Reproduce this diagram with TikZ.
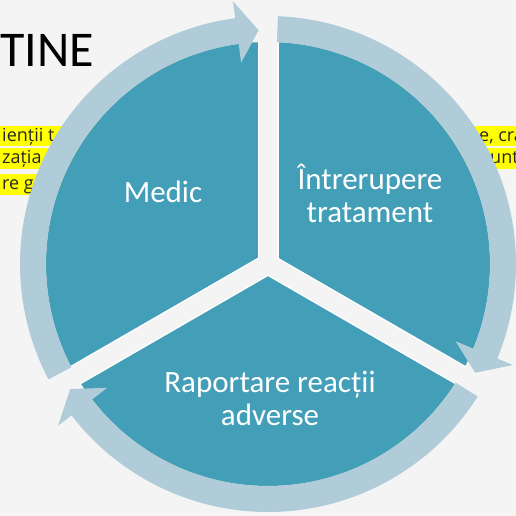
\documentclass[tikz,border=0pt]{standalone}
\usepackage{fontspec}
\setmainfont{Carlito}
\newfontfamily\bodyfont{Open Sans}

\definecolor{bggray}{HTML}{F4F4F4}
\definecolor{segteal}{HTML}{439FB8}
\definecolor{ringblue}{HTML}{B0CCD8}
\definecolor{hiyellow}{HTML}{FFFF00}

\begin{document}
\begin{tikzpicture}[x=1pt, y=1pt,
    band/.style={fill=hiyellow},
    hltext/.style={font=\bodyfont\fontsize{18}{20}\selectfont, text=black!85, inner sep=0pt, anchor=base west},
    seglabel/.style={font=\fontsize{31}{33}\selectfont, text=white, align=center},
    ringarrow/.style={fill=ringblue}]

    \fill[bggray] (-268,-252) rectangle (248,264);
    \useasboundingbox (-268,-252) rectangle (248,264);

    \fill[band] (-268,118) rectangle (248,138);
    \fill[band] (-268,95) rectangle (248,116);
    \fill[band] (-268,69) rectangle (-120,90);

    \node[hltext] (1) at (-266,122) {ienții t};
    \node[hltext, anchor=base] (2) at (-0.5,122) {eze};
    \node[hltext] (3) at (211,122) {e, cra};

    \node[hltext] (4) at (-266,100) {zația};
    \node[hltext, anchor=base] (5) at (-0.5,100) {pe};
    \node[hltext] (6) at (222,100) {unt};

    \node[hltext] (7) at (-266,74) {re ge};

    \node[font=\fontsize{50}{54}\selectfont, anchor=base west, inner sep=0pt] (8) at (-268,197) {TINE};

    \fill[segteal] (0,0) circle[radius=222];

    \foreach \a in {90,210,330}
        \draw[white, line width=21pt] (0,0) -- (\a:223);
    \foreach \a in {90,210,330}
        \draw[bggray, line width=18pt] (0,0) -- (\a:224);

    \foreach \t/\h in {207.7/92.3, 87.7/-27.7, -32.3/-147.7}{
        \pgfmathsetmacro\hb{\h+5.3}
        \fill[ringarrow] (\t:222) arc[start angle=\t, end angle=\hb, radius=222]
            -- (\hb:203) -- (\h:234) -- (\hb:265) -- (\hb:248)
            arc[start angle=\hb, end angle=\t, radius=248] -- cycle;
    }

    \node[seglabel] (9) at (-105,72) {Medic};
    \node[seglabel] (10) at (102,71) {Întrerupere\\tratament};
    \node[seglabel] (11) at (2,-134) {Raportare reacții\\adverse};

\end{tikzpicture}
\end{document}
